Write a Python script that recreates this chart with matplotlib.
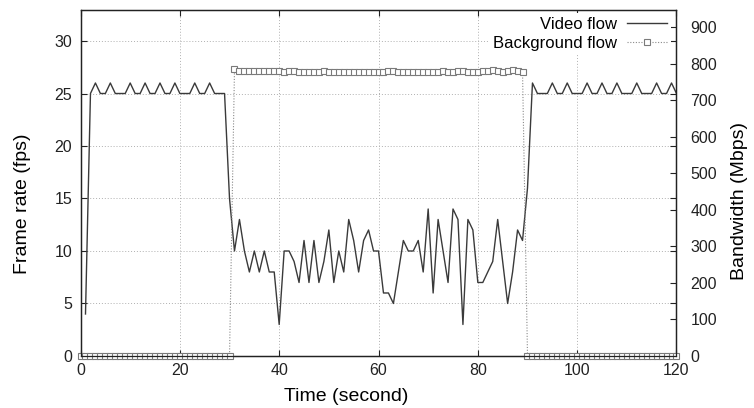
import matplotlib
matplotlib.use('Agg')
import matplotlib.pyplot as plt

plt.rcParams['font.family'] = ['Liberation Sans', 'DejaVu Sans']

# video flow frame rate, one sample per second from t=1
video_t = list(range(1, 121))
video_fps = [4, 25, 26, 25, 25, 26, 25, 25, 25, 26,
             25, 25, 26, 25, 25, 26, 25, 25, 26, 25,
             25, 25, 26, 25, 25, 26, 25, 25, 25, 15,
             10, 13, 10, 8, 10, 8, 10, 8, 8, 3,
             10, 10, 9, 7, 11, 7, 11, 7, 9, 12,
             7, 10, 8, 13, 11, 8, 11, 12, 10, 10,
             6, 6, 5, 8, 11, 10, 10, 11, 8, 14,
             6, 13, 10, 7, 14, 13, 3, 13, 12, 7,
             7, 8, 9, 13, 9, 5, 8, 12, 11, 16,
             26, 25, 25, 25, 26, 25, 25, 26, 25, 25,
             25, 26, 25, 25, 26, 25, 25, 26, 25, 25,
             25, 26, 25, 25, 25, 26, 25, 25, 26, 25]

# background flow bandwidth, t=0..120
bg_t = list(range(0, 121))
bg_on = [784, 781, 781, 780, 780, 780, 779, 780, 779, 779,
         778, 779, 780, 778, 777, 777, 778, 778, 779, 778,
         777, 777, 778, 778, 777, 778, 778, 777, 777, 778,
         778, 779, 779, 778, 777, 778, 777, 778, 777, 778,
         777, 778, 779, 777, 778, 779, 780, 778, 777, 778,
         780, 779, 782, 780, 778, 781, 783, 780, 777]
bg_mbps = [0] * 31 + bg_on + [0] * 31

fps_ticks = [0, 5, 10, 15, 20, 25, 30]
bw_ticks = list(range(0, 1000, 100))
time_ticks = [0, 20, 40, 60, 80, 100, 120]

fig = plt.figure(figsize=(7.54, 4.08), dpi=100)
ax = fig.add_axes([0.1068, 0.1275, 0.7904, 0.8492])
ax2 = ax.twinx()

l1, = ax.plot(video_t, video_fps, color='#3a3a3a', lw=1.0, label='Video flow')
l2, = ax2.plot(bg_t, bg_mbps, color='#8a8a8a', lw=0.8, ls=(0, (1, 1.5)),
               marker='s', ms=4.2, mfc='white', mec='#7a7a7a', mew=0.8,
               label='Background flow', clip_on=False)

ax.set_xlim(0, 120)
ax.set_ylim(0, 33)
ax2.set_ylim(0, 948)
ax.set_xticks(time_ticks)
ax.set_yticks(fps_ticks)
ax2.set_yticks(bw_ticks)

ax.grid(True, ls=(0, (1, 2)), color='#b0b0b0', lw=0.7)
ax.set_axisbelow(True)

ax.tick_params(direction='in', length=4, width=0.8, top=True, right=True,
               labelsize=11.5, pad=6, colors='#222222')
ax.tick_params(axis='x', pad=5)
ax2.tick_params(direction='in', length=4, width=0.8, labelsize=11.5,
                pad=10, colors='#222222')

for a in (ax, ax2):
    for s in a.spines.values():
        s.set_linewidth(0.9)
        s.set_color('#222222')

ax.set_xlabel('Time (second)', fontsize=14)
ax.set_ylabel('Frame rate (fps)', fontsize=14)
ax2.set_ylabel('Bandwidth (Mbps)', fontsize=14)
ax.xaxis.set_label_coords(0.445, -0.118)
ax.xaxis.label.set_va('center')
ax.yaxis.set_label_coords(-0.098, 0.44)
ax.yaxis.label.set_va('center')
ax2.yaxis.set_label_coords(1.106, 0.447)
ax2.yaxis.label.set_va('center')

leg = ax2.legend([l1, l2], ['Video flow', 'Background flow'], loc='upper right',
                 bbox_to_anchor=(0.997, 1.0), markerfirst=False, numpoints=1,
                 handlelength=2.4, handletextpad=0.6, labelspacing=0.25,
                 fontsize=12, frameon=True, fancybox=False, borderpad=0.25,
                 borderaxespad=0.2)
leg.get_frame().set_facecolor('white')
leg.get_frame().set_edgecolor('none')
leg.get_frame().set_alpha(1)

fig.savefig('out.png', dpi=100)
